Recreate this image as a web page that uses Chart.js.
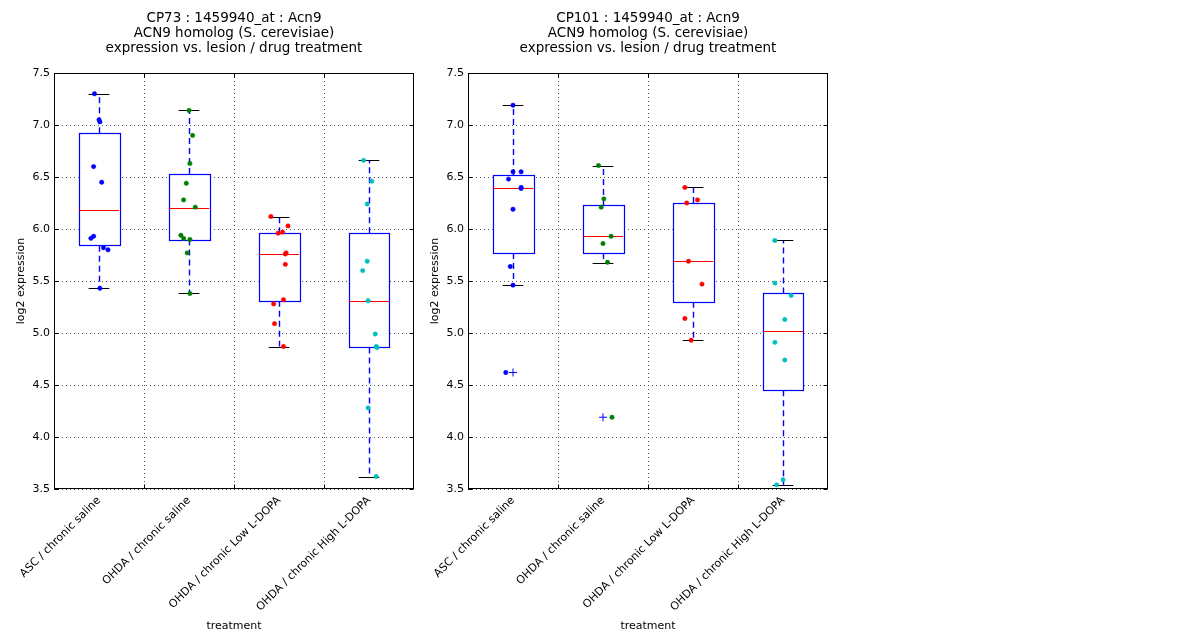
<!DOCTYPE html>
<html>
<head>
<meta charset="utf-8">
<script src="https://cdn.jsdelivr.net/npm/chart.js@4"></script>
<style>
  body { margin: 0; background: #fff; }
  #wrap { position: relative; width: 1200px; height: 640px; }
  canvas { position: absolute; top: 0; }
</style>
</head>
<body>
<div id="wrap">
  <canvas id="cp73" width="420" height="640" style="left:0px"></canvas>
  <canvas id="cp101" width="420" height="640" style="left:414px"></canvas>
</div>
<script>
const categories = [
  "ASC / chronic saline",
  "OHDA / chronic saline",
  "OHDA / chronic Low L-DOPA",
  "OHDA / chronic High L-DOPA",
];
const groupColors = ["#0000ff", "#008000", "#ff0000", "#00bfbf"];

// CP73 samples (log2 expression) and their horizontal jitter
const cp73Values = [
  [7.30, 7.05, 7.03, 6.60, 6.45, 5.93, 5.91, 5.82, 5.80, 5.43],
  [7.14, 6.90, 6.63, 6.44, 6.28, 6.21, 5.94, 5.91, 5.90, 5.77, 5.38],
  [6.12, 6.03, 5.97, 5.96, 5.77, 5.76, 5.66, 5.32, 5.28, 5.09, 4.87],
  [6.66, 6.46, 6.24, 5.69, 5.60, 5.31, 4.99, 4.87, 4.86, 4.28, 3.62],
];
const cp73Jitter = [
  [-0.05, 0.0, 0.01, -0.06, 0.03, -0.06, -0.09, 0.05, 0.1, 0.01],
  [0.0, 0.04, 0.01, -0.03, -0.06, 0.07, -0.09, -0.06, 0.01, -0.02, 0.01],
  [-0.09, 0.1, 0.04, -0.01, 0.08, 0.07, 0.07, 0.05, -0.06, -0.05, 0.05],
  [-0.06, 0.03, -0.02, -0.02, -0.07, -0.01, 0.07, 0.08, 0.09, -0.01, 0.08],
];
// CP73 box summaries
const cp73Q1 = [5.84, 5.90, 5.31, 4.86];
const cp73Median = [6.18, 6.20, 5.76, 5.31];
const cp73Q3 = [6.92, 6.53, 5.96, 5.96];
const cp73WhiskerLow = [5.43, 5.38, 4.87, 3.62];
const cp73WhiskerHigh = [7.30, 7.14, 6.12, 6.66];
const cp73Fliers = [[], [], [], []];

// CP101
const cp101Values = [
  [7.19, 6.55, 6.55, 6.48, 6.40, 6.39, 6.19, 5.64, 5.46, 4.62],
  [6.61, 6.29, 6.21, 5.93, 5.86, 5.68, 4.19],
  [6.40, 6.25, 6.28, 5.69, 5.47, 5.14, 4.93],
  [5.89, 5.48, 5.36, 5.13, 4.91, 4.74, 3.59, 3.54],
];
const cp101Jitter = [
  [0.0, 0.0, 0.09, -0.05, 0.09, 0.09, 0.0, -0.03, 0.0, -0.08],
  [-0.05, 0.01, -0.02, 0.09, 0.0, 0.05, 0.1],
  [-0.09, -0.07, 0.05, -0.05, 0.1, -0.09, -0.02],
  [-0.09, -0.09, 0.09, 0.02, -0.09, 0.02, 0.0, -0.07],
];
const cp101Q1 = [5.77, 5.77, 5.30, 4.45];
const cp101Median = [6.39, 5.93, 5.69, 5.02];
const cp101Q3 = [6.52, 6.23, 6.25, 5.38];
const cp101WhiskerLow = [5.46, 5.67, 4.93, 3.54];
const cp101WhiskerHigh = [7.19, 6.61, 6.40, 5.89];
const cp101Fliers = [[4.62], [4.19], [], []];

const yTicks = [3.5, 4.0, 4.5, 5.0, 5.5, 6.0, 6.5, 7.0, 7.5];
const xGridTicks = [1.5, 2.5, 3.5];

const FONT = "'DejaVu Sans', sans-serif";

// boxes, medians, whiskers and caps, drawn through the chart scales
const boxPlotPlugin = {
  id: "boxPlot",
  beforeDatasetsDraw(chart, args, opts) {
    const xs = chart.scales.x, ys = chart.scales.y;
    const ctx = chart.ctx;
    ctx.save();
    opts.q1.forEach((q1, i) => {
      const cx = xs.getPixelForValue(i + 1);
      const px = Math.round(cx) + 0.5;
      const half = xs.getPixelForValue(i + 1 + 0.225) - cx;
      const cap = xs.getPixelForValue(i + 1 + 0.115) - cx;
      const yq1 = ys.getPixelForValue(q1);
      const yq3 = ys.getPixelForValue(opts.q3[i]);
      const ymed = ys.getPixelForValue(opts.median[i]);
      const ylo = ys.getPixelForValue(opts.low[i]);
      const yhi = ys.getPixelForValue(opts.high[i]);

      // whiskers
      ctx.strokeStyle = "#0000ff";
      ctx.lineWidth = 1.4;
      ctx.setLineDash([6, 4]);
      ctx.beginPath();
      ctx.moveTo(px, yq3);
      ctx.lineTo(px, yhi);
      ctx.moveTo(px, yq1);
      ctx.lineTo(px, ylo);
      ctx.stroke();
      ctx.setLineDash([]);

      // caps
      ctx.lineWidth = 1.2;
      ctx.strokeStyle = "#000";
      ctx.beginPath();
      ctx.moveTo(cx - cap, Math.round(yhi) + 0.5);
      ctx.lineTo(cx + cap, Math.round(yhi) + 0.5);
      ctx.moveTo(cx - cap, Math.round(ylo) + 0.5);
      ctx.lineTo(cx + cap, Math.round(ylo) + 0.5);
      ctx.stroke();

      // box
      ctx.fillStyle = "#fff";
      ctx.fillRect(cx - half, yq3, 2 * half, yq1 - yq3);
      ctx.strokeStyle = "#0000ff";
      ctx.strokeRect(Math.round(cx - half) + 0.5, Math.round(yq3) + 0.5,
        Math.round(2 * half), Math.round(yq1 - yq3));

      // median
      ctx.strokeStyle = "#ff0000";
      ctx.beginPath();
      ctx.moveTo(cx - half, Math.round(ymed) + 0.5);
      ctx.lineTo(cx + half, Math.round(ymed) + 0.5);
      ctx.stroke();
    });
    ctx.restore();
  },
};

// frame with inward ticks, and the title centred over the plot area
const frameTitlePlugin = {
  id: "frameTitle",
  afterDraw(chart, args, opts) {
    const a = chart.chartArea;
    const xs = chart.scales.x, ys = chart.scales.y;
    const ctx = chart.ctx;
    ctx.save();
    ctx.strokeStyle = "#000";
    ctx.lineWidth = 1;
    const l = Math.round(a.left) + 0.5, t = Math.round(a.top) + 0.5;
    const r = Math.round(a.right) - 0.5, b = Math.round(a.bottom) - 0.5;
    ctx.strokeRect(l, t, r - l, b - t);
    ctx.beginPath();
    yTicks.forEach((v) => {
      const y = Math.round(ys.getPixelForValue(v)) + 0.5;
      ctx.moveTo(l, y); ctx.lineTo(l + 4, y);
      ctx.moveTo(r, y); ctx.lineTo(r - 4, y);
    });
    xGridTicks.forEach((v) => {
      const x = Math.round(xs.getPixelForValue(v)) + 0.5;
      ctx.moveTo(x, t); ctx.lineTo(x, t + 4);
      ctx.moveTo(x, b); ctx.lineTo(x, b - 4);
    });
    ctx.stroke();

    ctx.fillStyle = "#000";
    ctx.font = "13.5px " + FONT;
    ctx.textAlign = "center";
    ctx.textBaseline = "middle";
    const cx = (a.left + a.right) / 2;
    opts.lines.forEach((line, i) => ctx.fillText(line, cx, 18 + i * 15));
    ctx.restore();
  },
};

function makeChart(id, title, values, jitter, q1, median, q3, low, high, fliers) {
  const datasets = values.map((vals, g) => ({
    type: "scatter",
    label: categories[g],
    data: vals.map((v, k) => ({ x: g + 1 + jitter[g][k], y: v })),
    backgroundColor: groupColors[g],
    borderColor: groupColors[g],
    pointRadius: 2.2,
    borderWidth: 0.5,
  }));
  datasets.push({
    type: "scatter",
    label: "outliers",
    data: fliers.flatMap((f, g) => f.map((v) => ({ x: g + 1, y: v }))),
    pointStyle: "cross",
    pointRadius: 4,
    borderColor: "#0000ff",
    borderWidth: 1,
  });

  return new Chart(document.getElementById(id), {
    type: "scatter",
    data: { datasets },
    plugins: [boxPlotPlugin, frameTitlePlugin],
    options: {
      responsive: false,
      animation: false,
      devicePixelRatio: 1,
      layout: { padding: { left: 15, right: 6, top: 73, bottom: 7 } },
      scales: {
        x: {
          type: "linear",
          min: 0.5,
          max: 4.5,
          afterBuildTicks(scale) {
            scale.ticks = [1, 1.5, 2, 2.5, 3, 3.5, 4].map((v) => ({ value: v }));
          },
          afterFit(scale) { scale.height = 144; },
          grid: {
            drawTicks: false,
            color: (c) => (c.tick && Number.isInteger(c.tick.value) ? "rgba(0,0,0,0)" : "#555"),
          },
          border: { display: false, dash: [1, 3] },
          ticks: {
            autoSkip: false,
            maxRotation: 45,
            minRotation: 45,
            padding: 5,
            color: "#000",
            font: { family: FONT, size: 11 },
            callback: (v) => (Number.isInteger(v) ? categories[v - 1] : ""),
          },
          title: {
            display: true,
            text: "treatment",
            color: "#000",
            font: { family: FONT, size: 11 },
            padding: { top: 0, bottom: 0 },
          },
        },
        y: {
          min: 3.5,
          max: 7.5,
          afterBuildTicks(scale) {
            scale.ticks = yTicks.map((v) => ({ value: v }));
          },
          afterFit(scale) { scale.width = 39; },
          grid: { drawTicks: false, color: "#555" },
          border: { display: false, dash: [1, 3] },
          ticks: {
            padding: 4,
            color: "#000",
            font: { family: FONT, size: 11 },
            callback: (v) => v.toFixed(1),
          },
          title: {
            display: true,
            text: "log2 expression",
            color: "#000",
            font: { family: FONT, size: 11 },
            padding: { top: 0, bottom: 0 },
          },
        },
      },
      plugins: {
        legend: { display: false },
        tooltip: { enabled: false },
        title: { display: false },
        frameTitle: { lines: title },
        boxPlot: { q1, median, q3, low, high },
      },
    },
  });
}

makeChart("cp73",
  ["CP73 : 1459940_at : Acn9", "ACN9 homolog (S. cerevisiae)", "expression vs. lesion / drug treatment"],
  cp73Values, cp73Jitter, cp73Q1, cp73Median, cp73Q3, cp73WhiskerLow, cp73WhiskerHigh, cp73Fliers);
makeChart("cp101",
  ["CP101 : 1459940_at : Acn9", "ACN9 homolog (S. cerevisiae)", "expression vs. lesion / drug treatment"],
  cp101Values, cp101Jitter, cp101Q1, cp101Median, cp101Q3, cp101WhiskerLow, cp101WhiskerHigh, cp101Fliers);
</script>
</body>
</html>
